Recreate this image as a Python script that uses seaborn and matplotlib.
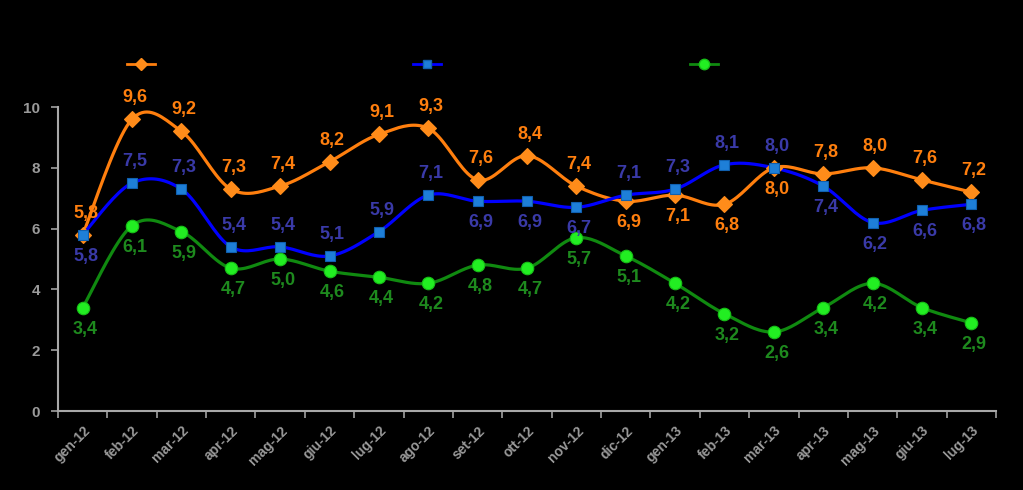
import numpy as np
import pandas as pd
import matplotlib
matplotlib.use("Agg")
import matplotlib.pyplot as plt
import seaborn as sns
from matplotlib.lines import Line2D

months = ["gen-12", "feb-12", "mar-12", "apr-12", "mag-12", "giu-12", "lug-12", "ago-12",
          "set-12", "ott-12", "nov-12", "dic-12", "gen-13", "feb-13", "mar-13", "apr-13",
          "mag-13", "giu-13", "lug-13"]
serie_a = [5.8, 9.6, 9.2, 7.3, 7.4, 8.2, 9.1, 9.3, 7.6, 8.4, 7.4, 6.9, 7.1, 6.8, 8.0, 7.8, 8.0, 7.6, 7.2]
serie_b = [5.8, 7.5, 7.3, 5.4, 5.4, 5.1, 5.9, 7.1, 6.9, 6.9, 6.7, 7.1, 7.3, 8.1, 8.0, 7.4, 6.2, 6.6, 6.8]
serie_c = [3.4, 6.1, 5.9, 4.7, 5.0, 4.6, 4.4, 4.2, 4.8, 4.7, 5.7, 5.1, 4.2, 3.2, 2.6, 3.4, 4.2, 3.4, 2.9]
names = ["Serie A", "Serie B", "Serie C"]
# label placement: 1 = above, -1 = below
pos_a = [1, 1, 1, 1, 1, 1, 1, 1, 1, 1, 1, -1, -1, -1, -1, 1, 1, 1, 1]
pos_b = [-1, 1, 1, 1, 1, 1, 1, 1, -1, -1, -1, 1, 1, 1, 1, -1, -1, -1, -1]
pos_c = [-1] * 19


def smooth(y, n=20):
    y = np.asarray(y, float)
    x = np.arange(len(y), dtype=float)
    P = np.column_stack([x, y])
    P = np.vstack([P[0], P, P[-1]])
    out = []
    t = np.linspace(0, 1, n, endpoint=False)
    for i in range(1, len(P) - 2):
        p0, p1, p2, p3 = P[i - 1], P[i], P[i + 1], P[i + 2]
        m1 = (p2 - p0) / 2.0
        m2 = (p3 - p1) / 2.0
        h00 = 2 * t**3 - 3 * t**2 + 1
        h10 = t**3 - 2 * t**2 + t
        h01 = -2 * t**3 + 3 * t**2
        h11 = t**3 - t**2
        seg = (h00[:, None] * p1 + h10[:, None] * m1 + h01[:, None] * p2 + h11[:, None] * m2)
        out.append(seg)
    out.append(P[-2][None, :])
    arr = np.vstack(out)
    return arr[:, 0], arr[:, 1]


FONT = ["Liberation Sans", "DejaVu Sans"]
fig = plt.figure(figsize=(10.23, 4.9), dpi=100, facecolor="black")
ax = fig.add_axes([0.0567, 0.1612, 0.9169, 0.6204])
ax.set_facecolor("black")

styles = [
    dict(vals=serie_a, pos=pos_a, line="#FF7F0E", mfc="#FF8C1A", mec="#FF8C1A", marker="D", ms=8,
         lab="#FF7F0E"),
    dict(vals=serie_b, pos=pos_b, line="#0000FF", mfc="#1E7FD8", mec="#1060B0", marker="s", ms=7,
         lab="#3A3AA8"),
    dict(vals=serie_c, pos=pos_c, line="#108A10", mfc="#22EE22", mec="#18C018", marker="o", ms=9,
         lab="#1E8A1E"),
]

x = np.arange(len(months))
handles = []
for name, st in zip(names, styles):
    sx, sy = smooth(st["vals"])
    sns.lineplot(x=sx, y=sy, sort=False, ax=ax, color=st["line"], linewidth=2.3, estimator=None)
    ax.plot(x, st["vals"], linestyle="none", marker=st["marker"], markersize=st["ms"],
            markerfacecolor=st["mfc"], markeredgecolor=st["mec"], markeredgewidth=0.8, zorder=5)
    for xi, v, p in zip(x, st["vals"], st["pos"]):
        ax.annotate(f"{v:.1f}".replace(".", ","), (xi, v), xytext=(2, 15.5 * p),
                    textcoords="offset points", ha="center", va="center",
                    fontsize=13, fontweight="bold", color=st["lab"],
                    family=FONT, zorder=6)
    handles.append(Line2D([0], [0], color=st["line"], linewidth=2, marker=st["marker"],
                          markersize=st["ms"] - 1.5, markerfacecolor=st["mfc"],
                          markeredgecolor=st["mec"], label=name))

ax.set_xlim(-0.5, len(months) - 0.5)
ax.set_ylim(0, 10)
ax.set_yticks([0, 2, 4, 6, 8, 10])
ax.set_xticks(np.arange(-0.5, len(months), 1.0))
ax.set_xticklabels([])
ax.set_xticks(x, minor=True)
ax.set_xticklabels(months, minor=True, rotation=45, ha="right", rotation_mode="anchor",
                   fontsize=10, fontweight="bold", color="#9A9A9A", family=FONT)
ax.tick_params(axis="x", which="minor", length=0, pad=9)
ax.tick_params(axis="x", which="major", length=5, color="#A0A0A0", width=1.2, direction="out")
ax.tick_params(axis="y", length=5, color="#A0A0A0", width=1.2, direction="out",
               labelcolor="#9A9A9A", labelsize=11, pad=8)
for lbl in ax.get_yticklabels():
    lbl.set_fontweight("bold")
    lbl.set_family(FONT)
for s in ["top", "right"]:
    ax.spines[s].set_visible(False)
for s in ["left", "bottom"]:
    ax.spines[s].set_color("#A8A8A8")
    ax.spines[s].set_linewidth(1.5)
ax.grid(False)

leg_x = [127, 413, 690]
for h, lx in zip(handles, leg_x):
    lg = fig.legend(handles=[h], loc="center left", bbox_to_anchor=(lx / 1023, 1 - 65 / 490),
                    frameon=False, handlelength=2.0, handletextpad=0.5, fontsize=10,
                    borderpad=0, borderaxespad=0)
    for t in lg.get_texts():
        t.set_color("black")

fig.savefig("out.png", dpi=100, facecolor="black")
